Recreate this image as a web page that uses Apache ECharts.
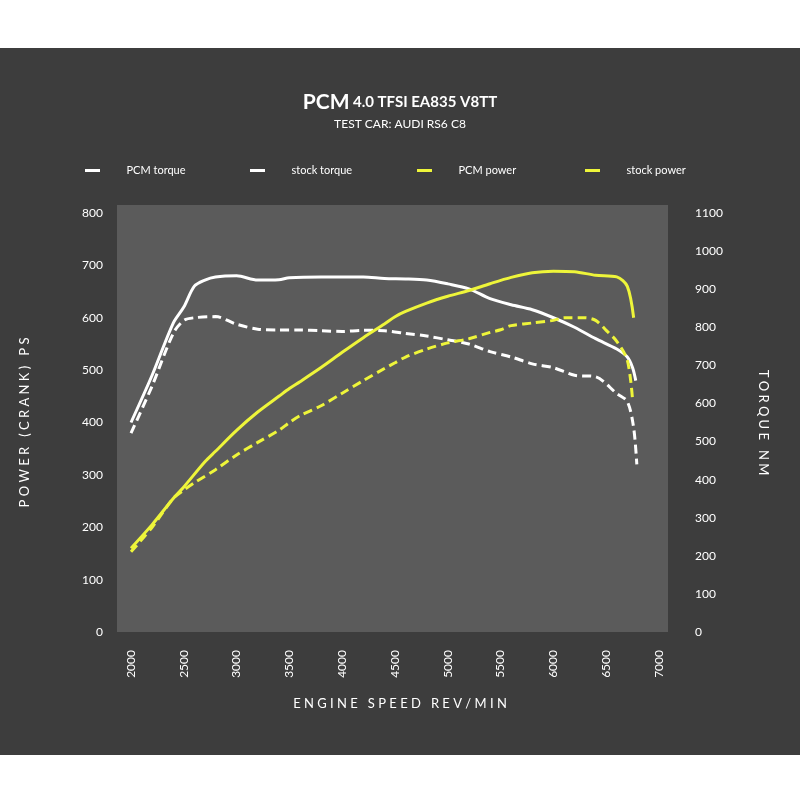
<!DOCTYPE html>
<html><head><meta charset="utf-8">
<script src="https://cdn.jsdelivr.net/npm/echarts@6/dist/echarts.min.js"></script>
<style>html,body{margin:0;padding:0;background:#fff}#c{width:800px;height:800px}</style>
</head><body><div id="c"></div>
<script>
const rpmTq = [2000,2200,2400,2500,2600,2700,2800,3000,3200,3400,3500,3800,4000,4200,4400,4600,4800,5000,5200,5400,5600,5800,6000,6200,6400,6600,6700,6750,6780];
const pcmTorque = [550,674,811,853,908,924,932,935,924,925,930,932,932,932,928,927,924,914,901,875,859,846,825,800,770,743,722,694,660];
const rpmStTq = [2000,2200,2400,2500,2600,2800,3000,3200,3400,3600,3800,4000,4200,4400,4600,4800,5000,5200,5400,5600,5800,6000,6200,6400,6600,6700,6760,6790];
const stockTorque = [522,646,784,818,825,828,808,795,793,793,791,789,792,791,784,777,767,756,736,722,704,694,674,670,626,605,536,440];
const rpmPw = [2000,2200,2400,2500,2700,2800,3000,3200,3400,3500,3600,3800,4000,4200,4400,4500,4600,4800,5000,5200,5400,5600,5800,6000,6200,6400,6600,6700,6760];
const pcmPower = [160,205,255,277,325,345,385,420,450,465,478,505,534,562,588,602,612,628,641,652,665,677,686,689,688,681,678,660,600];
const rpmStPw = [2000,2200,2400,2500,2600,2800,3000,3200,3400,3500,3600,3800,4000,4200,4400,4500,4600,4800,5000,5200,5400,5500,5600,5800,6000,6100,6300,6400,6500,6600,6700,6750];
const stockPower = [153,200,255,271,285,310,338,362,385,400,413,432,456,480,503,514,525,540,552,560,572,577,585,590,595,600,600,595,576,555,519,443];
const zip=(a,b)=>a.map((x,i)=>[x,b[i]]);
const W='#ffffff', Y='#eef53a', F='Lato, "Noto Sans", sans-serif';
const lg=(n,l)=>({data:[{name:n,icon:'path://M0,0H1V0.2H0Z'}],left:l,top:160,itemWidth:58,itemHeight:3,textStyle:{color:W,fontSize:11,fontFamily:F}});
const chart=echarts.init(document.getElementById('c'));
chart.setOption({
 backgroundColor:'#ffffff',
 graphic:[
  {type:'rect',shape:{x:0,y:48,width:800,height:707},style:{fill:'#3d3d3d'},z:-10},
  {type:'rect',shape:{x:117,y:205,width:551,height:427},style:{fill:'#5b5b5b'},z:-9},
  {type:'text',left:'center',top:92,style:{rich:{a:{fontSize:21,fontWeight:'bold',fill:W,fontFamily:F},b:{fontSize:15,fontWeight:'bold',fill:W,fontFamily:F}},text:'{a|PCM} {b|4.0 TFSI EA835 V8TT}'}},
  {type:'text',left:'center',top:118,style:{text:'TEST CAR: AUDI RS6 C8',fontSize:12,fill:W,fontFamily:F}},
  {type:'text',left:'center',top:697,style:{text:'E N G I N E   S P E E D   R E V / M I N',fontSize:13,fill:W,fontFamily:F}}
 ],
 legend:[lg('PCM torque',80),lg('stock torque',245),lg('PCM power',412),lg('stock power',580)],
 grid:{left:131,right:141,top:213,bottom:168},
 xAxis:{type:'value',min:2000,max:7000,interval:500,splitLine:{show:false},axisLine:{show:false},axisTick:{show:false},
  axisLabel:{rotate:90,color:W,fontSize:12,fontFamily:F,margin:18,formatter:v=>String(v)}},
 yAxis:[
  {type:'value',min:0,max:800,interval:100,splitLine:{show:false},axisLine:{show:false},axisTick:{show:false},axisLabel:{color:W,fontSize:12,fontFamily:F,margin:28,formatter:v=>String(v)},
   name:'P O W E R   ( C R A N K )   P S',nameLocation:'middle',nameGap:100,nameTextStyle:{color:W,fontSize:13,fontFamily:F}},
  {type:'value',min:0,max:1100,interval:100,splitLine:{show:false},axisLine:{show:false},axisTick:{show:false},axisLabel:{color:W,fontSize:12,fontFamily:F,margin:36,formatter:v=>String(v)},
   name:'T O R Q U E   N M',nameLocation:'middle',nameGap:98,nameRotate:-90,nameTextStyle:{color:W,fontSize:13,fontFamily:F}}
 ],
 series:[
  {name:'PCM torque',type:'line',yAxisIndex:1,data:zip(rpmTq,pcmTorque),smooth:0.3,symbol:'none',lineStyle:{color:W,width:3},itemStyle:{color:W}},
  {name:'stock torque',type:'line',yAxisIndex:1,data:zip(rpmStTq,stockTorque),smooth:0.3,symbol:'none',lineStyle:{color:W,width:3,type:[9,5]},itemStyle:{color:W}},
  {name:'PCM power',type:'line',yAxisIndex:0,data:zip(rpmPw,pcmPower),smooth:0.3,symbol:'none',lineStyle:{color:Y,width:3},itemStyle:{color:Y}},
  {name:'stock power',type:'line',yAxisIndex:0,data:zip(rpmStPw,stockPower),smooth:0.3,symbol:'none',lineStyle:{color:Y,width:3,type:[9,5]},itemStyle:{color:Y}}
 ]
});
</script></body></html>
